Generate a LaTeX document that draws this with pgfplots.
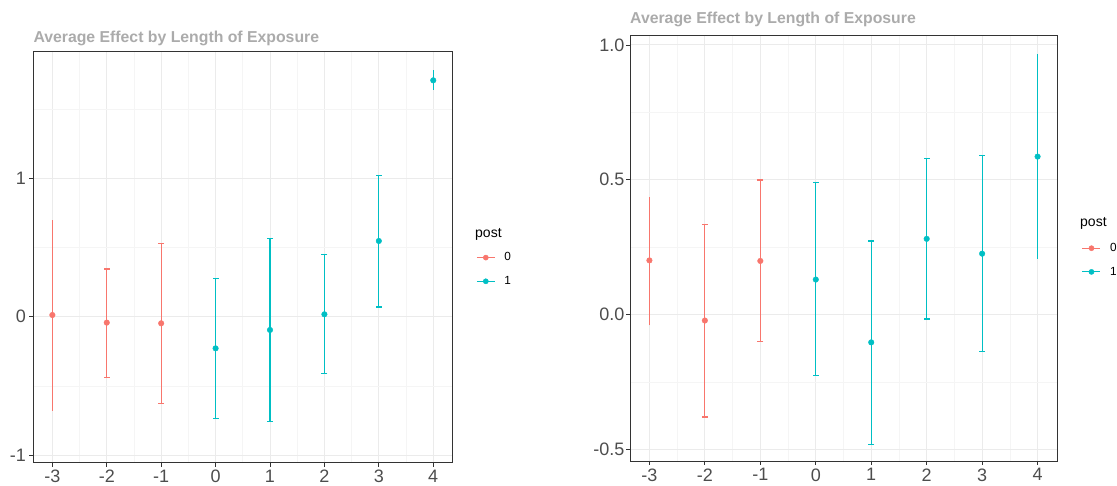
\documentclass[border=0pt]{standalone}
\usepackage{fontspec}
\setmainfont{Liberation Sans}
\usepackage{pgfplots}
\pgfplotsset{compat=1.18}
\definecolor{cR}{HTML}{F8766D}
\definecolor{cC}{HTML}{00BFC4}
\definecolor{tgray}{HTML}{ABABAB}
\definecolor{tlab}{HTML}{4D4D4D}
\definecolor{gmaj}{HTML}{EBEBEB}
\definecolor{gmin}{HTML}{F5F5F5}
\definecolor{frm}{HTML}{333333}

\pgfplotsset{
  every axis title shift=0pt,
  gg/.style={
    scale only axis,
    xmin=-3.35, xmax=4.35,
    xtick={-3,-2,-1,0,1,2,3,4},
    xticklabels={-3,-2,-1,0,1,2,3,4},
    minor xtick={-2.5,-1.5,-0.5,0.5,1.5,2.5,3.5},
    grid=both,
    major grid style={gmaj, line width=1pt},
    minor grid style={gmin, line width=0.6pt},
    tick align=outside,
    major tick length=4pt,
    minor tick length=0pt,
    tick pos=left,
    tick style={frm, line width=0.8pt},
    axis line style={frm, line width=0.9pt},
    ticklabel style={font=\fontsize{18}{20}\selectfont, text=tlab},
    title={Average Effect by Length of Exposure},
    title style={at={(0,1)}, anchor=base west, inner sep=0pt,
      font=\bfseries\fontsize{15.8}{18}\selectfont, text=tgray},
    unbounded coords=jump,
    legend cell align=left,
    legend style={anchor=north west, draw=none, fill=none, inner sep=0pt,
      row sep=14pt, column sep=9pt,
      nodes={inner sep=0pt, font=\fontsize{11.8}{13}\selectfont, text=black}},
  },
  bar/.style={#1, line width=1.2pt, forget plot},
  capbar/.style={#1, line width=1.2pt, forget plot, mark=-, mark size=3pt,
    mark options={solid, line width=1.2pt}},
  pts/.style={#1, only marks, mark=*, mark size=2.8pt, forget plot},
  keyR/.style={legend image code/.code={
    \draw[cR, line width=1.2pt] (0pt,0pt) -- (18pt,0pt);
    \fill[cR] (9pt,0pt) circle (2.6pt);}},
  keyC/.style={legend image code/.code={
    \draw[cC, line width=1.2pt] (0pt,0pt) -- (18pt,0pt);
    \fill[cC] (9pt,0pt) circle (2.6pt);}},
}

\begin{document}
\begin{tikzpicture}
\useasboundingbox (0,0) rectangle (1117pt,485pt);

% ---------------- left panel ----------------
\begin{axis}[gg,
  at={(33.3pt,22.5pt)}, anchor=south west,
  width=419pt, height=410.8pt,
  ymin=-1.054, ymax=1.915,
  ytick={-1,0,1}, yticklabels={-1,0,1},
  minor ytick={-0.5,0.5,1.5},
  title style={yshift=9.2pt},
  legend style={at={(1.0566,0.5111)}},
]
% post = 0
\addplot[bar=cR] coordinates {(-3,-0.680) (-3,0.699)};
\addplot[capbar=cR] coordinates {(-2,-0.439) (-2,0.345) (-2,nan) (-1,-0.627) (-1,0.530)};
\addplot[pts=cR] coordinates {(-3,0.012) (-2,-0.043) (-1,-0.048)};
% post = 1
\addplot[capbar=cC] coordinates {(0,-0.735) (0,0.277) (0,nan) (1,-0.759) (1,0.566) (1,nan)
  (2,-0.412) (2,0.448) (2,nan) (3,0.070) (3,1.022)};
\addplot[bar=cC] coordinates {(4,1.639) (4,1.783)};
\addplot[pts=cC] coordinates {(0,-0.229) (1,-0.096) (2,0.017) (3,0.547) (4,1.708)};
\addlegendimage{keyR}\addlegendentry{0}
\addlegendimage{keyC}\addlegendentry{1}
\end{axis}

% ---------------- right panel ----------------
\begin{axis}[gg,
  at={(630pt,24pt)}, anchor=south west,
  width=427pt, height=426pt,
  ymin=-0.543, ymax=1.037,
  ytick={-0.5,0,0.5,1}, yticklabels={-0.5,0.0,0.5,1.0},
  minor ytick={-0.25,0.25,0.75},
  yticklabel style={xshift=2pt},
  title style={yshift=11pt},
  legend style={at={(1.0578,0.5114)}},
]
% post = 0
\addplot[bar=cR] coordinates {(-3,-0.040) (-3,0.437)};
\addplot[capbar=cR] coordinates {(-2,-0.380) (-2,0.335) (-2,nan) (-1,-0.101) (-1,0.499)};
\addplot[pts=cR] coordinates {(-3,0.201) (-2,-0.022) (-1,0.199)};
% post = 1
\addplot[capbar=cC] coordinates {(0,-0.227) (0,0.489) (0,nan) (1,-0.481) (1,0.273) (1,nan)
  (2,-0.016) (2,0.580) (2,nan) (3,-0.137) (3,0.589)};
\addplot[bar=cC] coordinates {(4,0.207) (4,0.966)};
\addplot[pts=cC] coordinates {(0,0.130) (1,-0.103) (2,0.281) (3,0.226) (4,0.586)};
\addlegendimage{keyR}\addlegendentry{0}
\addlegendimage{keyC}\addlegendentry{1}
\end{axis}

\node[anchor=base west, inner sep=0pt, font=\fontsize{14}{16}\selectfont] at (475pt,247.3pt) {post};
\node[anchor=base west, inner sep=0pt, font=\fontsize{14}{16}\selectfont] at (1080pt,258.3pt) {post};
\end{tikzpicture}
\end{document}
